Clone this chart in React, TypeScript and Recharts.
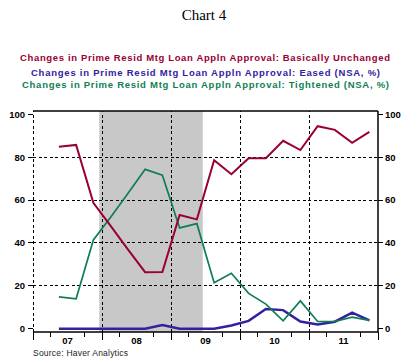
import React from 'react';
import { LineChart, Line, XAxis, YAxis, ReferenceArea, ReferenceLine } from 'recharts';

// ---- data ----
const quarters = [
  '2007Q2', '2007Q3', '2007Q4',
  '2008Q1', '2008Q2', '2008Q3', '2008Q4',
  '2009Q1', '2009Q2', '2009Q3', '2009Q4',
  '2010Q1', '2010Q2', '2010Q3', '2010Q4',
  '2011Q1', '2011Q2', '2011Q3', '2011Q4',
];
const basicallyUnchanged = [84.8, 85.7, 58.7, 48, 37, 26.4, 26.5, 53, 51, 78.6, 72, 79.5, 79.5, 87.6, 83.3, 94.4, 92.7, 86.7, 91.8];
const eased = [0, 0, 0, 0, 0, 0, 1.7, 0, 0, 0, 1.5, 3.7, 9.2, 8.7, 3.4, 2.0, 3.3, 7.5, 3.9];
const tightened = [14.9, 14, 41.4, 52, 63, 74.3, 71.6, 47, 49, 21.5, 25.9, 16.5, 11.5, 3.7, 13, 3.4, 3.4, 5.4, 3.9];

const years = [2007, 2008, 2009, 2010, 2011];
const yearLabels = ['07', '08', '09', '10', '11'];
const yTicks = [0, 20, 40, 60, 80, 100];
const recession = [2007.96, 2009.46];

const seriesNames = [
  'Changes in Prime Resid Mtg Loan Appln Approval: Basically Unchanged',
  'Changes in Prime Resid Mtg Loan Appln Approval: Eased (NSA, %)',
  'Changes in Prime Resid Mtg Loan Appln Approval: Tightened (NSA, %)',
];

const RED = '#990033';
const BLUE = '#3322a0';
const GREEN = '#0f7f52';

const X_DOMAIN: [number, number] = [years[0], years[years.length - 1] + 1];
const Y_DOMAIN: [number, number] = [-1.5, 101.5];

const toX = (q: string) => {
  const yr = parseInt(q.slice(0, 4), 10);
  const qq = parseInt(q.slice(5), 10);
  return yr + (qq - 1) * 0.25 + 0.125;
};

const data = quarters.map((q, i) => ({
  x: toX(q),
  unchanged: basicallyUnchanged[i],
  eased: eased[i],
  tightened: tightened[i],
}));

const xTicks: number[] = [];
for (let v = X_DOMAIN[0]; v <= X_DOMAIN[1] + 1e-9; v += 0.25) xTicks.push(Math.round(v * 100) / 100);

const FONT = '"Liberation Sans", Arial, sans-serif';

const XTick = (props: any) => {
  const { x, y, payload } = props;
  const v = payload.value as number;
  const yr = Math.floor(v + 1e-9);
  const frac = Math.round((v - yr) * 4);
  if (frac === 2) {
    return (
      <text x={x} y={y + 12} textAnchor="middle" fontFamily={FONT} fontWeight="bold" fontSize={9.5} fill="#000">
        {yearLabels[yr - years[0]]}
      </text>
    );
  }
  const len = frac === 0 ? 8 : 5;
  return <line x1={x} x2={x} y1={y} y2={y + len} stroke="#000" strokeWidth={1} shapeRendering="crispEdges" />;
};

const tickStyle = { fontFamily: FONT, fontWeight: 'bold' as const, fontSize: 9.5, fill: '#000' };

export default function App() {
  return (
    <div style={{ position: 'absolute', left: 0, top: 0, width: 407, height: 362, background: '#fff' }}>
      <LineChart
        width={407}
        height={362}
        data={data}
        margin={{ top: 111, right: 0, bottom: 0, left: 0 }}
      >
        <XAxis
          dataKey="x"
          type="number"
          domain={X_DOMAIN}
          ticks={xTicks}
          interval={0}
          allowDataOverflow
          height={30}
          tickSize={0}
          tickMargin={0}
          tickLine={false}
          axisLine={{ stroke: '#000', strokeWidth: 1.5 }}
          tick={<XTick />}
        />
        <YAxis
          yAxisId="l"
          orientation="left"
          type="number"
          domain={Y_DOMAIN}
          ticks={yTicks}
          interval={0}
          allowDataOverflow
          width={33}
          tickSize={5}
          tickMargin={3}
          axisLine={false}
          tickLine={{ stroke: '#000', shapeRendering: 'crispEdges' }}
          tick={tickStyle}
        />
        <YAxis
          yAxisId="r"
          orientation="right"
          type="number"
          domain={Y_DOMAIN}
          ticks={yTicks}
          interval={0}
          allowDataOverflow
          width={29}
          tickSize={5}
          tickMargin={2}
          axisLine={{ stroke: '#000', strokeWidth: 1.5 }}
          tickLine={{ stroke: '#000', shapeRendering: 'crispEdges' }}
          tick={tickStyle}
        />
        <ReferenceArea yAxisId="l" x1={recession[0]} x2={recession[1]} y1={Y_DOMAIN[0]} y2={Y_DOMAIN[1]} fill="#c8c8c8" fillOpacity={1} stroke="none" />
        {yTicks.filter((t) => t > 0 && t < 100).map((t) => (
          <ReferenceLine key={'h' + t} yAxisId="l" y={t} stroke="#000" strokeDasharray="3 2.5" strokeWidth={1} shapeRendering="crispEdges" />
        ))}
        {years.map((yr) => (
          <ReferenceLine key={'v' + yr} yAxisId="l" x={yr} stroke="#000" strokeDasharray="3 2.5" strokeWidth={1} shapeRendering="crispEdges" />
        ))}
        <ReferenceLine yAxisId="l" y={Y_DOMAIN[1]} stroke="#000" strokeWidth={1.5} />
        <Line yAxisId="l" dataKey="eased" stroke={BLUE} strokeWidth={2.5} dot={false} isAnimationActive={false} />
        <Line yAxisId="l" dataKey="tightened" stroke={GREEN} strokeWidth={1.7} dot={false} isAnimationActive={false} />
        <Line yAxisId="l" dataKey="unchanged" stroke={RED} strokeWidth={2} dot={false} isAnimationActive={false} />
      </LineChart>
      <svg width={407} height={362} style={{ position: 'absolute', left: 0, top: 0, pointerEvents: 'none' }}>
        <text x={204} y={20} textAnchor="middle" fontFamily='"Liberation Serif", "Times New Roman", serif' fontSize={15} fill="#000">
          Chart 4
        </text>
        <text x={20} y={61} textLength={370} lengthAdjust="spacing" fontFamily={FONT} fontWeight="bold" fontSize={9.5} fill={RED}>
          {seriesNames[0]}
        </text>
        <text x={31} y={75.5} textLength={349} lengthAdjust="spacing" fontFamily={FONT} fontWeight="bold" fontSize={9.5} fill={BLUE}>
          {seriesNames[1]}
        </text>
        <text x={22} y={88} textLength={367} lengthAdjust="spacing" fontFamily={FONT} fontWeight="bold" fontSize={9.5} fill={GREEN}>
          {seriesNames[2]}
        </text>
        <text x={33} y={356} textLength={95} lengthAdjust="spacing" fontFamily={FONT} fontSize={8.5} fill="#222">
          Source: Haver Analytics
        </text>
      </svg>
    </div>
  );
}
